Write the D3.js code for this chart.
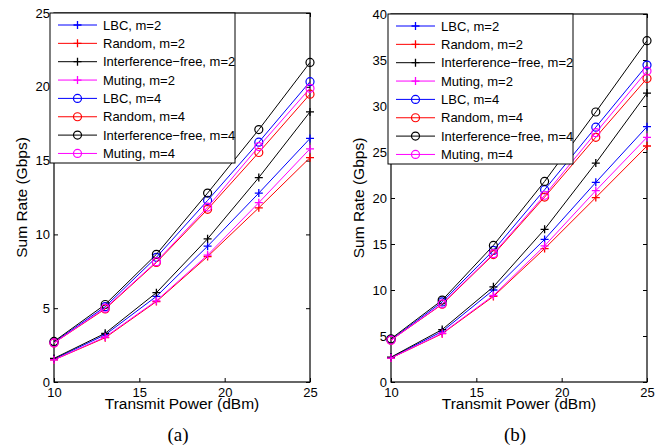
<!DOCTYPE html>
<html>
  <head>
    <meta charset="utf-8">
    <title>Sum rate vs transmit power</title>
    <script src="https://d3js.org/d3.v7.min.js"></script>
    <style>
      body { margin: 0; background: #fff; }
      svg text { font-family: Arial, "Liberation Sans", sans-serif; }
    </style>
  </head>
  <body>
    <div id="chart"></div>
    <script>
      // data
      const power = [10, 13, 16, 19, 22, 25];
      const seriesNames = ["LBC, m=2", "Random, m=2", "Interference\u2212free, m=2", "Muting, m=2",
                           "LBC, m=4", "Random, m=4", "Interference\u2212free, m=4", "Muting, m=4"];
      const seriesColors = ["#0000ff", "#ff0000", "#000000", "#ff00ff",
                            "#0000ff", "#ff0000", "#000000", "#ff00ff"];
      const seriesMarkers = ["plus", "plus", "plus", "plus", "circle", "circle", "circle", "circle"];
      // panel (a)
      const lbc2A = [1.55, 3.2, 5.8, 9.2, 12.8, 16.5];
      const rand2A = [1.5, 3.0, 5.45, 8.5, 11.8, 15.2];
      const free2A = [1.6, 3.3, 6.05, 9.7, 13.85, 18.3];
      const mute2A = [1.5, 3.05, 5.5, 8.6, 12.15, 15.8];
      const lbc4A = [2.7, 5.1, 8.45, 12.3, 16.25, 20.35];
      const rand4A = [2.65, 4.95, 8.1, 11.7, 15.55, 19.5];
      const free4A = [2.75, 5.25, 8.65, 12.8, 17.1, 21.65];
      const mute4A = [2.65, 5.0, 8.15, 11.85, 15.95, 19.9];
      // panel (b)
      const lbc2B = [2.65, 5.5, 10.0, 15.5, 21.7, 27.75];
      const rand2B = [2.6, 5.25, 9.3, 14.5, 20.05, 25.65];
      const free2B = [2.7, 5.7, 10.35, 16.6, 23.8, 31.4];
      const mute2B = [2.6, 5.3, 9.4, 14.8, 20.8, 26.6];
      const lbc4B = [4.6, 8.7, 14.3, 20.9, 27.7, 34.45];
      const rand4B = [4.55, 8.45, 13.85, 20.1, 26.6, 33.0];
      const free4B = [4.7, 8.9, 14.85, 21.8, 29.35, 37.1];
      const mute4B = [4.55, 8.5, 13.95, 20.3, 27.1, 33.8];
      const xTicks = [10, 15, 20, 25];
      const yTicksA = [0, 5, 10, 15, 20, 25];
      const yTicksB = [0, 5, 10, 15, 20, 25, 30, 35, 40];

      const svg = d3.select("#chart").append("svg")
        .attr("width", 664)
        .attr("height", 447);

      const panels = [
        { left: 54, right: 310, top: 13, bottom: 382, ymax: 25, yTicks: yTicksA, caption: "(a)",
          series: [lbc2A, rand2A, free2A, mute2A, lbc4A, rand4A, free4A, mute4A], legendX: 50 },
        { left: 391, right: 647, top: 14, bottom: 382, ymax: 40, yTicks: yTicksB, caption: "(b)",
          series: [lbc2B, rand2B, free2B, mute2B, lbc4B, rand4B, free4B, mute4B], legendX: 388 }
      ];

      panels.forEach(function(p) {
        const x = d3.scaleLinear().domain([10, 25]).range([p.left, p.right]);
        const y = d3.scaleLinear().domain([0, p.ymax]).range([p.bottom, p.top]);
        const g = svg.append("g");

        // axes with inward ticks (box style)
        const fmt = d3.format("d");
        g.append("g")
          .attr("transform", "translate(0," + p.bottom + ")")
          .call(d3.axisBottom(x).tickValues(xTicks).tickFormat(fmt).tickSizeInner(-4).tickSizeOuter(0).tickPadding(6));
        g.append("g")
          .attr("transform", "translate(0," + p.top + ")")
          .call(d3.axisTop(x).tickValues(xTicks).tickFormat("").tickSizeInner(-4).tickSizeOuter(0));
        g.append("g")
          .attr("transform", "translate(" + p.left + ",0)")
          .call(d3.axisLeft(y).tickValues(p.yTicks).tickFormat(fmt).tickSizeInner(-4).tickSizeOuter(0).tickPadding(4));
        g.append("g")
          .attr("transform", "translate(" + p.right + ",0)")
          .call(d3.axisRight(y).tickValues(p.yTicks).tickFormat("").tickSizeInner(-4).tickSizeOuter(0));
        g.selectAll(".domain").remove();
        g.selectAll(".tick line").attr("stroke", "#000");
        g.selectAll(".tick text")
          .attr("fill", "#000")
          .style("font-size", "13px");

        g.append("rect")
          .attr("x", p.left)
          .attr("y", p.top)
          .attr("width", p.right - p.left)
          .attr("height", p.bottom - p.top)
          .attr("fill", "none")
          .attr("stroke", "#000")
          .attr("stroke-width", 1.2);

        // series lines and markers
        const line = d3.line()
          .x(function(d, i) { return x(power[i]); })
          .y(function(d) { return y(d); });
        p.series.forEach(function(vals, s) {
          const col = seriesColors[s];
          g.append("path")
            .datum(vals)
            .attr("d", line)
            .attr("fill", "none")
            .attr("stroke", col)
            .attr("stroke-width", 1);
          vals.forEach(function(v, i) {
            drawMarker(g, seriesMarkers[s], x(power[i]), y(v), col);
          });
        });

        // axis titles and caption
        const cx = (p.left + p.right) / 2;
        g.append("text")
          .attr("x", cx)
          .attr("y", 409)
          .attr("text-anchor", "middle")
          .style("font-size", "15.5px")
          .text("Transmit Power (dBm)");
        g.append("text")
          .attr("transform", "translate(" + (p.left - 27) + "," + ((p.top + p.bottom) / 2) + ") rotate(-90)")
          .attr("text-anchor", "middle")
          .style("font-size", "15.5px")
          .text("Sum Rate (Gbps)");
        g.append("text")
          .attr("x", cx - 4)
          .attr("y", 441)
          .attr("text-anchor", "middle")
          .style("font-family", "'Liberation Serif', 'Times New Roman', serif")
          .style("font-size", "19px")
          .text(p.caption);

        // legend
        const lg = g.append("g").attr("transform", "translate(" + p.legendX + "," + p.top + ")");
        lg.append("rect")
          .attr("width", 185)
          .attr("height", 150)
          .attr("fill", "#fff")
          .attr("stroke", "#000")
          .attr("stroke-width", 1);
        seriesNames.forEach(function(name, s) {
          const ry = 12 + s * 18.35;
          lg.append("line")
            .attr("x1", 8).attr("x2", 47)
            .attr("y1", ry).attr("y2", ry)
            .attr("stroke", seriesColors[s])
            .attr("stroke-width", 1);
          drawMarker(lg, seriesMarkers[s], 27.5, ry, seriesColors[s]);
          lg.append("text")
            .attr("x", 53)
            .attr("y", ry)
            .attr("dy", "0.36em")
            .style("font-size", "13px")
            .text(name);
        });
      });

      function drawMarker(sel, kind, cx, cy, col) {
        if (kind == "circle") {
          sel.append("circle")
            .attr("cx", cx).attr("cy", cy).attr("r", 4)
            .attr("fill", "none")
            .attr("stroke", col)
            .attr("stroke-width", 1.2);
        } else {
          sel.append("path")
            .attr("d", "M" + (cx - 4) + "," + cy + "h8M" + cx + "," + (cy - 4) + "v8")
            .attr("stroke", col)
            .attr("stroke-width", 1.3);
        }
      }
    </script>
  </body>
</html>
